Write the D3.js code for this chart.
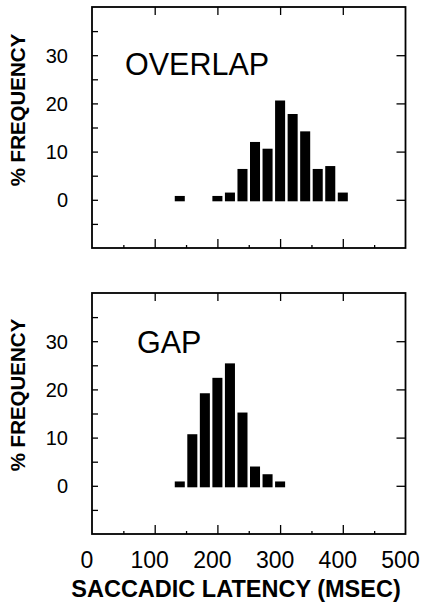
<!DOCTYPE html>
<html><head><meta charset="utf-8">
<script src="https://cdn.jsdelivr.net/npm/d3@7"></script>
<style>body{margin:0;background:#fff}svg{display:block}text{font-family:"Liberation Sans",Arial,Helvetica,sans-serif;fill:#000}</style>
</head><body>
<script>
// Data
const overlapBins = [140, 200, 220, 240, 260, 280, 300, 320, 340, 360, 380, 400];
const overlapValues = [0.8, 0.8, 1.5, 6.4, 12.0, 10.6, 20.6, 17.8, 14.2, 6.4, 7.0, 1.5];
const gapBins = [140, 160, 180, 200, 220, 240, 260, 280, 300];
const gapValues = [0.9, 10.7, 19.2, 22.4, 25.4, 15.2, 4.0, 2.4, 0.9];
const xTicks = [0, 100, 200, 300, 400, 500];
const yTicks = [0, 10, 20, 30];
const panelLabels = ["OVERLAP", "GAP"];

const W = 424, H = 616;
const svg = d3.select("body").append("svg").attr("width", W).attr("height", H);

const left = 92, right = 405.5, ph = 241;
const panelTops = [7, 293];
const x = d3.scaleLinear().domain([0, 500]).range([left, right]);
const binW = 16;

const panels = [
  {bins: overlapBins, vals: overlapValues, label: panelLabels[0], lx: 125, ly: 75},
  {bins: gapBins, vals: gapValues, label: panelLabels[1], lx: 137, ly: 353}
];

panels.forEach((p, i) => {
  const top = panelTops[i];
  const y = d3.scaleLinear().domain([-10, 40]).range([top + ph, top]);
  const g = svg.append("g");

  // bars
  g.selectAll("rect.bar").data(p.bins.map((b, j) => ({b, v: p.vals[j]})))
    .enter().append("rect")
    .attr("x", d => x(d.b - binW / 2))
    .attr("width", d => x(d.b + binW / 2) - x(d.b - binW / 2))
    .attr("y", d => y(d.v))
    .attr("height", d => y(0) - y(d.v) + 1.5)
    .attr("fill", "#000");

  // left axis: ticks inward every 5, labels for majors
  const yl = d3.axisLeft(y).tickValues(d3.range(-5, 40, 5)).tickSize(-6).tickFormat("");
  g.append("g").attr("transform", `translate(${left},0)`).call(yl)
    .call(a => a.select(".domain").remove())
    .selectAll("line").attr("stroke", "#000").attr("stroke-width", 1.3);
  const yr = d3.axisRight(y).tickValues(yTicks).tickSize(-9).tickFormat("");
  g.append("g").attr("transform", `translate(${right},0)`).call(yr)
    .call(a => a.select(".domain").remove())
    .selectAll("line").attr("stroke", "#000").attr("stroke-width", 1.3);
  g.selectAll("text.yl").data(yTicks).enter().append("text")
    .attr("x", 68).attr("y", d => y(d) + 7.5)
    .attr("text-anchor", "end").attr("font-size", 20).text(d => d);

  // x ticks
  const xt = d3.axisTop(x).tickValues([100, 200, 300, 400]).tickSize(-8).tickFormat("");
  g.append("g").attr("transform", `translate(0,${top})`).call(xt)
    .call(a => a.select(".domain").remove())
    .selectAll("line").attr("stroke", "#000").attr("stroke-width", 1.3);
  const xb = d3.axisBottom(x).tickValues([100, 200, 300, 400]).tickSize(-9).tickFormat("");
  g.append("g").attr("transform", `translate(0,${top + ph})`).call(xb)
    .call(a => a.select(".domain").remove())
    .selectAll("line").attr("stroke", "#000").attr("stroke-width", 1.3);
  const xm = d3.axisBottom(x).tickValues([50, 150, 250, 350, 450]).tickSize(-3).tickFormat("");
  g.append("g").attr("transform", `translate(0,${top + ph})`).call(xm)
    .call(a => a.select(".domain").remove())
    .selectAll("line").attr("stroke", "#000").attr("stroke-width", 1.3);

  // frame
  g.append("rect").attr("x", left).attr("y", top).attr("width", right - left).attr("height", ph)
    .attr("fill", "none").attr("stroke", "#000").attr("stroke-width", 1.8);

  // panel label
  g.append("text").attr("x", p.lx).attr("y", p.ly).attr("font-size", 30.5).text(p.label);

  // y title
  const cy = i === 0 ? 110 : 395;
  g.append("text").attr("transform", `translate(25,${cy}) rotate(-90)`)
    .attr("text-anchor", "middle").attr("font-size", 20.5).attr("font-weight", "bold")
    .text("% FREQUENCY");
});

// x tick labels
const bottomY = panelTops[1] + ph;
svg.selectAll("text.xl").data(xTicks).enter().append("text")
  .attr("x", d => x(d) - 5).attr("y", 568)
  .attr("text-anchor", "middle").attr("font-size", 23).text(d => d);

svg.append("text").attr("x", 236).attr("y", 597).attr("text-anchor", "middle")
  .attr("font-size", 23.5).attr("font-weight", "bold").text("SACCADIC LATENCY (MSEC)");
</script>
</body></html>
